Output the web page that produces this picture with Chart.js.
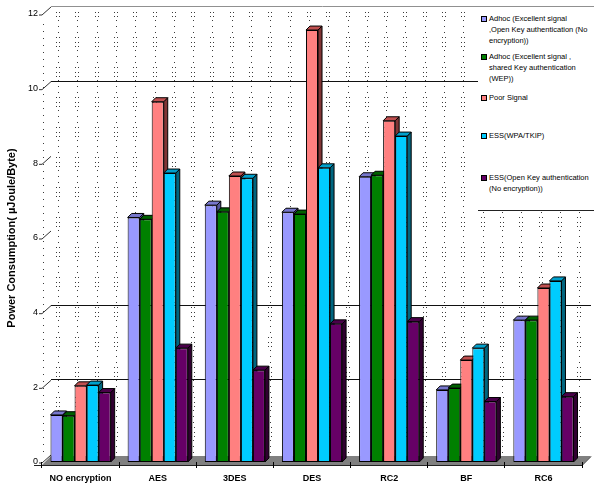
<!DOCTYPE html>
<html>
<head>
<meta charset="utf-8">
<script src="https://cdn.jsdelivr.net/npm/chart.js@4.4.0/dist/chart.umd.min.js"></script>
<style>
  html, body { margin: 0; padding: 0; background: #fff; }
  #wrap { position: relative; width: 594px; height: 489px; }
  #legend {
    position: absolute; left: 478px; top: 8px; width: 116px; height: 202px;
    background: #fff; border-bottom: 1px solid #222;
    font-family: 'Liberation Sans', Arial, sans-serif; font-size: 7.5px; color: #000;
  }
  .item { position: absolute; left: 3px; width: 112px; }
  .sw { position: absolute; left: 0; top: 3px; width: 4px; height: 4px; border: 1px solid #000; }
  .txt { position: absolute; left: 8px; top: 0; line-height: 11px; white-space: nowrap; }
</style>
</head>
<body>
<div id="wrap">
  <canvas id="c" width="594" height="489"></canvas>
  <div id="legend"></div>
</div>
<script>
// Categories (encryption algorithms) and measured power consumption per scenario
const categories = ['NO encryption', 'AES', '3DES', 'DES', 'RC2', 'BF', 'RC6'];

const adhocOpen  = [1.26, 6.55, 6.88, 6.69, 7.64, 1.93, 3.80];
const adhocWep   = [1.24, 6.50, 6.70, 6.64, 7.68, 1.98, 3.80];
const poorSignal = [2.04, 9.65, 7.66, 11.57, 9.14, 2.73, 4.66];
const essWpa     = [2.06, 7.74, 7.60, 7.88, 8.73, 3.05, 4.85];
const essOpen    = [1.86, 3.05, 2.46, 3.70, 3.76, 1.62, 1.75];

const seriesLabels = [
  ['Adhoc (Excellent signal', ',Open Key authentication (No', 'encryption))'],
  ['Adhoc (Excellent signal ,', 'shared Key authentication', '(WEP))'],
  ['Poor Signal'],
  ['ESS(WPA/TKIP)'],
  ['ESS(Open Key authentication', '(No encryption))']
];
const seriesValues = [adhocOpen, adhocWep, poorSignal, essWpa, essOpen];

const yTicks = [0, 2, 4, 6, 8, 10, 12];
const wallGridValues = [2, 4, 10];   // gridlines drawn on the back wall

// front / top / side shades for each series
const palette = [
  { front: '#9999FF', top: '#7777CC', side: '#55559A' },
  { front: '#008000', top: '#006000', side: '#004000' },
  { front: '#FF8080', top: '#C05050', side: '#803535' },
  { front: '#00CCFF', top: '#00A0CC', side: '#006680' },
  { front: '#660066', top: '#4A004A', side: '#300030' }
];
const FONT = "'Liberation Sans', Arial, sans-serif";
const WALL_DX = 9, WALL_DY = -8;   // depth of the chart box
const BAR_DX = 4, BAR_DY = -4;     // depth of each column

// Walls, dotted back-wall fill, gridlines and the grey floor
const walls = {
  id: 'walls',
  beforeDraw(chart) {
    const { ctx, chartArea: a, scales } = chart;
    const ys = scales.y;
    const top = ys.getPixelForValue(12), bot = ys.getPixelForValue(0);
    ctx.save();
    ctx.fillStyle = '#fff';
    ctx.fillRect(0, 0, chart.width, chart.height);

    // dotted fill on back wall and side wall
    ctx.fillStyle = '#3a3a3a';
    const y0 = top + WALL_DY + 6, y1 = bot + WALL_DY - 2;
    const motif = [[0, 2], [4, 2], [8, 1], [14, 1], [20, 1], [25, 2]];
    for (let cx = a.left + 16; cx < chart.width; cx += 19.3) {
      const px = Math.round(cx);
      for (let yy = y0; yy < y1; yy += 30) {
        motif.forEach(([off, n]) => {
          const py = Math.round(yy + off);
          if (py > y1) return;
          if (n === 2) { ctx.fillRect(px - 2, py, 1, 1); ctx.fillRect(px + 1, py, 1, 1); }
          else ctx.fillRect(px, py, 1, 1);
        });
      }
    }
    for (let yy = top + 10; yy < bot - 4; yy += 7) ctx.fillRect(a.left + 1, Math.round(yy), 1, 1);

    // top edge of the back wall
    ctx.strokeStyle = '#909090';
    ctx.lineWidth = 1;
    ctx.beginPath();
    ctx.moveTo(a.left + WALL_DX, top + WALL_DY + 0.5);
    ctx.lineTo(chart.width, top + WALL_DY + 0.5);
    ctx.stroke();

    // back-wall gridlines
    ctx.strokeStyle = '#111';
    wallGridValues.forEach(v => {
      const y = Math.round(ys.getPixelForValue(v) + WALL_DY) + 0.5;
      ctx.beginPath();
      ctx.moveTo(a.left + WALL_DX, y);
      ctx.lineTo(a.right + WALL_DX, y);
      ctx.stroke();
    });

    // side-wall tick diagonals
    ctx.strokeStyle = '#333';
    yTicks.forEach(v => {
      const y = ys.getPixelForValue(v);
      ctx.beginPath();
      ctx.moveTo(a.left - 3, y + 1);
      ctx.lineTo(a.left, y + 1);
      ctx.lineTo(a.left + WALL_DX, y + WALL_DY + 1);
      ctx.stroke();
    });

    // floor
    ctx.fillStyle = '#808080';
    ctx.beginPath();
    ctx.moveTo(a.left, bot + 3);
    ctx.lineTo(a.right, bot + 3);
    ctx.lineTo(a.right + WALL_DX, bot + 3 + WALL_DY - 1);
    ctx.lineTo(a.left + WALL_DX, bot + 3 + WALL_DY - 1);
    ctx.closePath();
    ctx.fill();
    ctx.strokeStyle = '#222';
    ctx.beginPath();
    ctx.moveTo(a.left - 8, bot + 3.5);
    ctx.lineTo(a.right, bot + 3.5);
    ctx.lineTo(a.right + WALL_DX, bot + 3.5 + WALL_DY - 1);
    ctx.stroke();
    ctx.restore();
  }
};

// Top and side faces of each column, drawn behind the front faces
const bar3d = {
  id: 'bar3d',
  beforeDatasetsDraw(chart) {
    const ctx = chart.ctx;
    ctx.save();
    ctx.lineWidth = 1;
    ctx.strokeStyle = '#000';
    chart.data.datasets.forEach((ds, i) => {
      const meta = chart.getDatasetMeta(i);
      const c = palette[i];
      meta.data.forEach(bar => {
        const { x, y, base, width } = bar.getProps(['x', 'y', 'base', 'width'], true);
        const l = x - width / 2, r = x + width / 2;
        // side face
        ctx.fillStyle = c.side;
        ctx.beginPath();
        ctx.moveTo(r, y); ctx.lineTo(r + BAR_DX, y + BAR_DY);
        ctx.lineTo(r + BAR_DX, base + BAR_DY); ctx.lineTo(r, base);
        ctx.closePath(); ctx.fill(); ctx.stroke();
        // top face
        ctx.fillStyle = c.top;
        ctx.beginPath();
        ctx.moveTo(l, y); ctx.lineTo(r, y);
        ctx.lineTo(r + BAR_DX, y + BAR_DY); ctx.lineTo(l + BAR_DX, y + BAR_DY);
        ctx.closePath(); ctx.fill(); ctx.stroke();
      });
    });
    ctx.restore();
  }
};

const datasets = seriesValues.map((vals, i) => ({
  label: seriesLabels[i].join(' '),
  data: vals,
  backgroundColor: palette[i].front,
  borderColor: '#000',
  borderWidth: 1,
  borderSkipped: false,
  categoryPercentage: 0.78,
  barPercentage: 1.0
}));

new Chart(document.getElementById('c'), {
  type: 'bar',
  data: { labels: categories, datasets },
  options: {
    responsive: false,
    animation: false,
    layout: { padding: { top: 14, right: 12, left: 0, bottom: 0 } },
    plugins: { legend: { display: false }, tooltip: { enabled: false } },
    scales: {
      x: {
        ticks: { font: { family: FONT, size: 9, weight: 'bold' }, color: '#000', padding: 5, maxRotation: 0, autoSkip: false },
        grid: { drawOnChartArea: false, tickLength: 6, color: '#000', offset: true },
        border: { display: false },
        afterFit(s) { s.height = 27; }
      },
      y: {
        min: 0, max: 12,
        afterBuildTicks(s) { s.ticks = yTicks.map(v => ({ value: v })); },
        ticks: { font: { family: FONT, size: 9 }, color: '#000', padding: 4 },
        grid: { display: false, drawTicks: false },
        border: { display: false },
        title: { display: true, text: 'Power Consumption( µJoule/Byte)', color: '#000',
                 font: { family: FONT, size: 11, weight: 'bold' }, padding: { top: 5, bottom: 0 } },
        afterFit(s) { s.width = 42; }
      }
    }
  },
  plugins: [walls, bar3d]
});

// Legend block at the upper right
const legendTops = [4.5, 42.5, 83.5, 121.5, 163.5];
const legend = document.getElementById('legend');
seriesLabels.forEach((lines, i) => {
  const item = document.createElement('div');
  item.className = 'item';
  item.style.top = legendTops[i] + 'px';
  const sw = document.createElement('span');
  sw.className = 'sw';
  sw.style.background = palette[i].front;
  const txt = document.createElement('span');
  txt.className = 'txt';
  txt.innerHTML = lines.join('<br>');
  item.appendChild(sw);
  item.appendChild(txt);
  legend.appendChild(item);
});
</script>
</body>
</html>
